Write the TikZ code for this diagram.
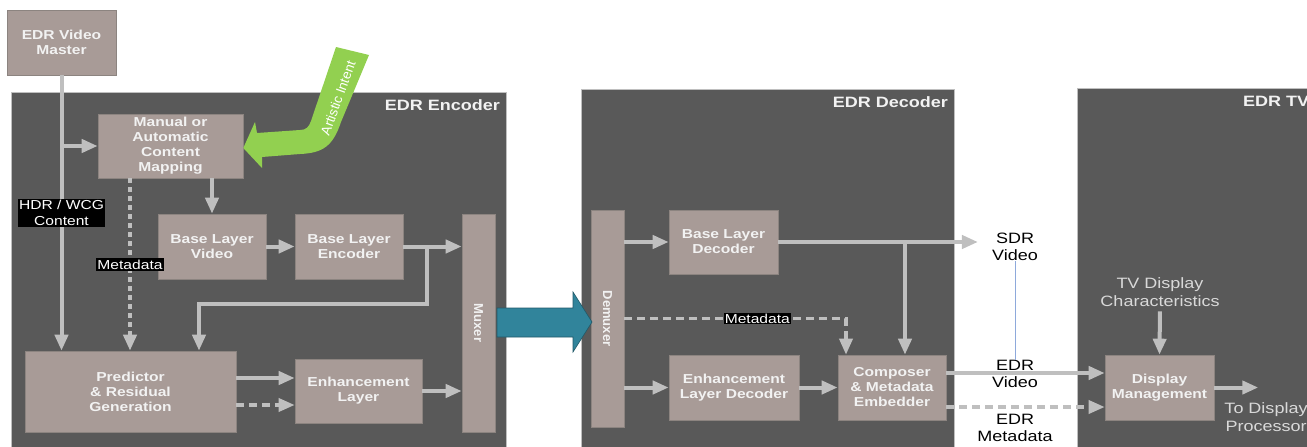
\documentclass[tikz,border=0pt]{standalone}
\usepackage{fontspec}
\usepackage{graphicx}
\setmainfont{Liberation Sans}[FakeStretch=1.2]
\newfontfamily\rotfont{Liberation Sans}
\usetikzlibrary{arrows.meta}
\definecolor{panelgray}{HTML}{595959}
\definecolor{boxfill}{HTML}{A89B97}
\definecolor{boxline}{HTML}{8C8480}
\definecolor{flowgray}{HTML}{BFBFBF}
\definecolor{boxtext}{HTML}{F2F2F2}
\definecolor{softtext}{HTML}{D9D9D9}
\definecolor{artgreen}{HTML}{92D050}
\definecolor{muxteal}{HTML}{31849B}
\definecolor{muxtealdark}{HTML}{215968}
\definecolor{thinblue}{HTML}{8EA9DB}
\begin{document}
\begin{tikzpicture}[x=1pt,y=-1pt,
    blk/.style={draw=boxline,line width=0.6pt,fill=boxfill,text=boxtext,
      font=\bfseries\fontsize{13}{15}\selectfont,align=center,inner sep=0pt},
    panel/.style={draw=flowgray,line width=0.8pt,fill=panelgray},
    paneltitle/.style={text=boxtext,font=\bfseries\fontsize{15}{18}\selectfont,inner sep=0pt},
    flow/.style={draw=flowgray,line width=4pt,-{Triangle[length=16pt,width=13pt]}},
    metaflow/.style={flow,line width=3.5pt,dash pattern=on 8pt off 5pt},
    dotflow/.style={flow,dash pattern=on 5pt off 4pt},
    tag/.style={fill=black,text=white,font=\fontsize{13}{15.5}\selectfont,align=center,inner sep=1.5pt},
    plain/.style={text=black,font=\fontsize{15}{17.5}\selectfont,align=center,inner sep=0pt},
    soft/.style={plain,text=softtext}]
    \useasboundingbox (0,0) rectangle (1307,447);
    \clip (0,0) rectangle (1307,447);
    % panels
    \draw[panel] (11,92) rectangle (506,460);
    \draw[panel] (581,89) rectangle (954,460);
    \draw[panel] (1077,88) rectangle (1330,460);
    \node[paneltitle,anchor=base east] (enctitle) at (500,110) {EDR Encoder};
    \node[paneltitle,anchor=base east] (dectitle) at (948,107) {EDR Decoder};
    \node[paneltitle,anchor=base west] (tvtitle) at (1243,106) {EDR TV};
    % encoder
    \node[blk,minimum width=109pt,minimum height=65pt] (master) at (61.5,42.5) {EDR Video\\Master};
    \node[blk,minimum width=145pt,minimum height=64pt] (manual) at (170.5,146) {Manual or\\Automatic\\Content\\Mapping};
    \node[blk,minimum width=108pt,minimum height=65pt] (blv) at (212,246.5) {Base Layer\\Video};
    \node[blk,minimum width=108pt,minimum height=65pt] (ble) at (349,246.5) {Base Layer\\Encoder};
    \node[blk,minimum width=33pt,minimum height=218pt,font=\rotfont\bfseries\fontsize{13}{15}\selectfont] (muxer) at (478.5,323) {\rotatebox{-90}{Muxer}};
    \node[blk,minimum width=211pt,minimum height=81pt] (pred) at (130.5,391.5) {Predictor\\\& Residual\\Generation};
    \node[blk,minimum width=127pt,minimum height=64pt] (enh) at (358.5,391) {Enhancement\\Layer};
    % decoder
    \node[blk,minimum width=33pt,minimum height=217pt,font=\rotfont\bfseries\fontsize{13}{15}\selectfont] (demux) at (607.5,318.5) {\rotatebox{-90}{Demuxer}};
    \node[blk,minimum width=109pt,minimum height=64pt] (bld) at (723.5,242) {Base Layer\\Decoder};
    \node[blk,minimum width=130pt,minimum height=65pt] (eld) at (734,387.5) {Enhancement\\Layer Decoder};
    \node[blk,minimum width=108pt,minimum height=65pt] (composer) at (892,387.5) {Composer\\\& Metadata\\Embedder};
    % tv
    \node[blk,minimum width=109pt,minimum height=65pt] (dm) at (1159.5,387.5) {Display\\Management};
    \node[plain] (sdr) at (1015,247) {SDR\\Video};
    \node[plain] (edrv) at (1015,374) {EDR\\Video};
    \node[plain] (edrm) at (1015,428) {EDR\\Metadata};
    \node[soft] (tvchar) at (1160,292) {TV Display\\Characteristics};
    \node[soft] (todisp) at (1266,417) {To Display\\Processor};

    \draw[flow] (master.south) -- (master.south |- pred.north)
        node[tag,pos=0.5] (hdrtag) {HDR / WCG\\Content};
    \draw[flow] (master.south |- manual.west) -- (manual.west);
    \draw[dotflow] ([xshift=-40.5pt]manual.south) -- ([xshift=-40.5pt]manual.south |- pred.north)
        node[tag,pos=0.5] (metatag) {Metadata};
    \draw[flow] (blv.north |- manual.south) -- (blv.north);
    \draw[flow] (blv.east) -- (ble.west);
    \draw[flow] (ble.east) -- (ble.east -| muxer.west);
    \coordinate (blsplit) at ([xshift=24pt]ble.east);
    \draw[flow] (blsplit) -- ++(0,57.5) -| ([xshift=68.5pt]pred.north);
    \draw[flow] ([yshift=13pt]enh.west -| pred.east) -- ([yshift=13pt]enh.west);
    \draw[metaflow] ([yshift=-14pt]enh.west -| pred.east) -- ([yshift=-14pt]enh.west);
    \draw[flow] (enh.east) -- (enh.east -| muxer.west);

    \draw[flow] (demux.east |- bld.west) -- (bld.west);
    \draw[flow] (bld.east) -- ([xshift=-14pt]sdr.west |- bld.east);
    \draw[flow] ([xshift=13pt]composer.north |- bld.east) -- ([xshift=13pt]composer.north);
    \draw[metaflow] (demux.east) -| ([xshift=-46pt]composer.north)
        node[tag,pos=0.3,inner sep=1pt] (metatag2) {Metadata};
    \draw[flow] (demux.east |- eld.west) -- (eld.west);
    \draw[flow] (eld.east) -- (composer.west);
    \draw[flow] ([yshift=14.5pt]composer.east) -- ([yshift=14.5pt]dm.west);
    \draw[metaflow] ([yshift=-19.5pt]composer.east) -- ([yshift=-19.5pt]dm.west);
    \draw[thinblue,line width=1pt] (sdr.south) -- (edrv.north);
    \draw[flow,shorten <=5pt] (tvchar.south) -- (dm.north);
    \draw[flow] (dm.east) -- ++(44,0);

    % muxer to demuxer
    \draw[fill=muxteal,draw=muxtealdark,line width=0.6pt] (497,308) -- (573,308) -- (573,292)
        -- (592,322) -- (573,352) -- (573,337) -- (497,337) -- cycle;
    % artistic intent
    \fill[artgreen] (336,47) -- (369,55) -- (341,122) .. controls (333,146) and (323,153) .. (300,154)
        -- (262,157) -- (262,168) -- ([yshift=-2pt]manual.east) -- (255,122) -- (257,133)
        -- (300,130) .. controls (306,130) and (309,127) .. (311,121) -- cycle;
    \node[text=white,rotate=70,font=\rotfont\fontsize{13.5}{15}\selectfont,inner sep=0pt] (artlbl) at (338,98) {Artistic Intent};
\end{tikzpicture}
\end{document}
